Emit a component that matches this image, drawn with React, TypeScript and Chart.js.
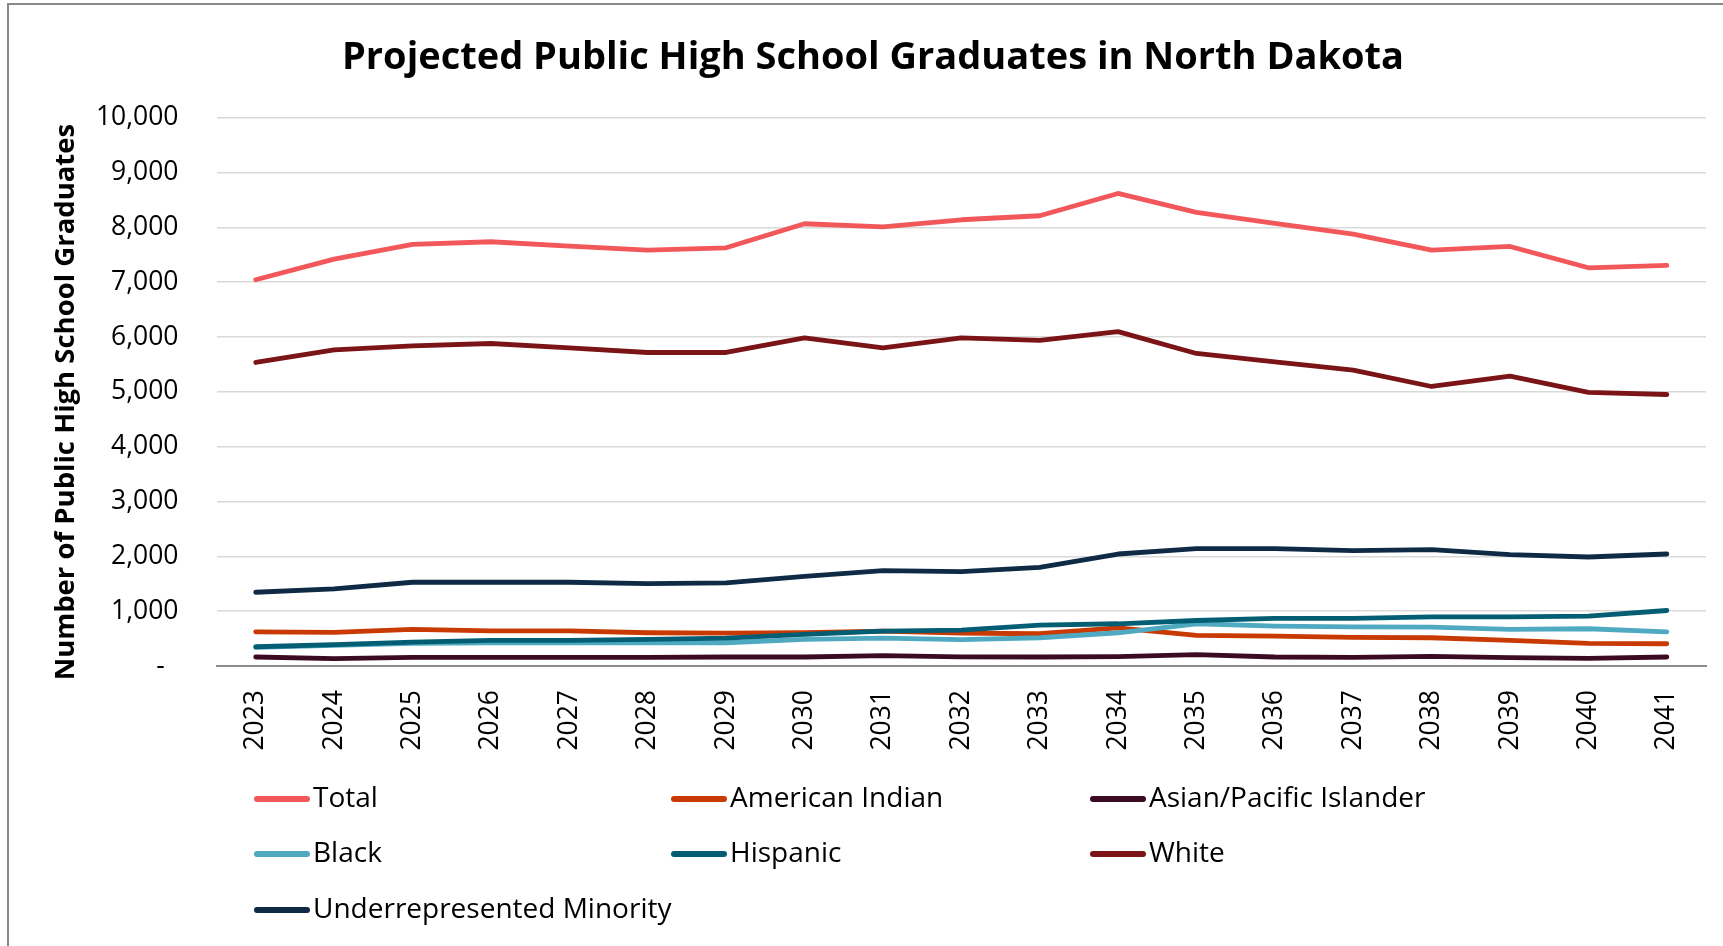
import React, { useEffect, useRef } from "react";
import { Chart, registerables } from "chart.js";

Chart.register(...registerables);

const years = ["2023","2024","2025","2026","2027","2028","2029","2030","2031","2032","2033","2034","2035","2036","2037","2038","2039","2040","2041"];

const total = [7043, 7419, 7687, 7736, 7655, 7584, 7626, 8064, 8009, 8137, 8210, 8617, 8271, 8070, 7875, 7584, 7650, 7261, 7304];
const americanIndian = [624, 612, 667, 642, 642, 606, 600, 606, 636, 600, 588, 697, 558, 545, 521, 515, 467, 412, 406];
const asianPacific = [164, 133, 158, 158, 158, 158, 164, 164, 188, 166, 164, 170, 206, 164, 158, 176, 152, 139, 164];
const black = [339, 376, 412, 424, 424, 424, 424, 485, 509, 480, 515, 606, 770, 727, 715, 709, 667, 679, 624];
const hispanic = [351, 388, 436, 467, 467, 485, 509, 576, 636, 654, 745, 770, 830, 867, 867, 897, 897, 909, 1012];
const white = [5535, 5766, 5839, 5881, 5802, 5717, 5717, 5985, 5802, 5982, 5939, 6097, 5699, 5547, 5395, 5097, 5286, 4988, 4951];
const urm = [1345, 1406, 1527, 1527, 1527, 1503, 1515, 1636, 1739, 1720, 1800, 2042, 2139, 2139, 2103, 2121, 2030, 1988, 2042];

const seriesNames = ["Total", "American Indian", "Asian/Pacific Islander", "Black", "Hispanic", "White", "Underrepresented Minority"];
const seriesValues = [total, americanIndian, asianPacific, black, hispanic, white, urm];
const seriesColors = ["#F2575A", "#C83A02", "#3B0A23", "#4FA9C1", "#035E73", "#7B1416", "#0E2A45"];

const yTicks = [0, 1000, 2000, 3000, 4000, 5000, 6000, 7000, 8000, 9000, 10000];

const titleText = "Projected Public High School Graduates in North Dakota";
const yTitleText = "Number of Public High School Graduates";

const FONT = "'Open Sans', sans-serif";

const decorPlugin = {
  id: "decor",
  afterDraw(chart: any) {
    const ctx = chart.ctx;
    ctx.save();
    // Title
    ctx.fillStyle = "#000000";
    ctx.font = `bold 38px ${FONT}`;
    ctx.textAlign = "center";
    ctx.textBaseline = "middle";
    ctx.fillText(titleText, 873, 58);
    // Y title
    ctx.save();
    ctx.translate(66, 402);
    ctx.rotate(-Math.PI / 2);
    ctx.font = `bold 27.5px ${FONT}`;
    ctx.fillText(yTitleText, 0, 0);
    ctx.restore();
    // Legend
    const colX = [254, 671, 1090];
    const rowY = [799, 854, 910];
    chart.data.datasets.forEach((ds: any, i: number) => {
      const x = colX[i % 3];
      const y = rowY[Math.floor(i / 3)];
      ctx.strokeStyle = ds.borderColor;
      ctx.lineWidth = 6;
      ctx.lineCap = "round";
      ctx.beginPath();
      ctx.moveTo(x + 3, y);
      ctx.lineTo(x + 53, y);
      ctx.stroke();
      ctx.fillStyle = "#000000";
      ctx.font = `28px ${FONT}`;
      ctx.textAlign = "left";
      ctx.textBaseline = "middle";
      ctx.fillText(ds.label, x + 59, y);
    });
    ctx.restore();
  },
};

export default function App() {
  const ref = useRef<HTMLCanvasElement | null>(null);
  useEffect(() => {
    if (!ref.current) return;
    const n = seriesNames.length;
    const chart = new Chart(ref.current, {
      type: "line",
      data: {
        labels: years,
        datasets: seriesNames.map((name, i) => ({
          label: name,
          data: seriesValues[i],
          borderColor: seriesColors[i],
          backgroundColor: seriesColors[i],
          borderWidth: 4.8,
          pointRadius: 0,
          borderCapStyle: "round",
          borderJoinStyle: "round",
          tension: 0,
          order: n - i,
        })),
      },
      options: {
        responsive: false,
        animation: false,
        devicePixelRatio: 1,
        layout: { padding: { top: 117.6, left: 37, right: 14, bottom: 160 } },
        plugins: {
          legend: { display: false },
          title: { display: false },
          tooltip: { enabled: false },
        },
        scales: {
          x: {
            offset: true,
            grid: { display: false, drawTicks: false },
            border: { display: true, color: "#8C8C8C", width: 2 },
            ticks: {
              autoSkip: false,
              minRotation: 90,
              maxRotation: 90,
              padding: 24,
              color: "#000000",
              font: { family: FONT, size: 26.5 },
            },
            afterFit(scale: any) {
              scale.height = 120;
            },
          },
          y: {
            min: 0,
            max: 10000,
            afterBuildTicks(scale: any) {
              scale.ticks = yTicks.map((v) => ({ value: v }));
            },
            grid: {
              drawTicks: false,
              color: (c: any) => (c.tick && c.tick.value === 0 ? "rgba(0,0,0,0)" : "#D9D9D9"),
              lineWidth: 1.5,
            },
            border: { display: false },
            ticks: {
              padding: 38,
              color: "#000000",
              font: { family: FONT, size: 26.5 },
              callback: (v: any) => (Number(v) === 0 ? "-  " : Number(v).toLocaleString("en-US")),
            },
            afterFit(scale: any) {
              scale.width = 179.5;
            },
          },
        },
      },
      plugins: [decorPlugin],
    });
    return () => chart.destroy();
  }, []);

  return (
    <div style={{ position: "fixed", left: 0, top: 0, width: 1723, height: 946, background: "#ffffff", overflow: "hidden" }}>
      <div
        style={{
          position: "absolute",
          left: 7,
          top: 3,
          width: 1800,
          height: 1000,
          borderLeft: "2px solid #888888",
          borderTop: "2px solid #888888",
        }}
      />
      <canvas ref={ref} width={1723} height={946} style={{ position: "absolute", left: 0, top: 0, width: 1723, height: 946 }} />
    </div>
  );
}
